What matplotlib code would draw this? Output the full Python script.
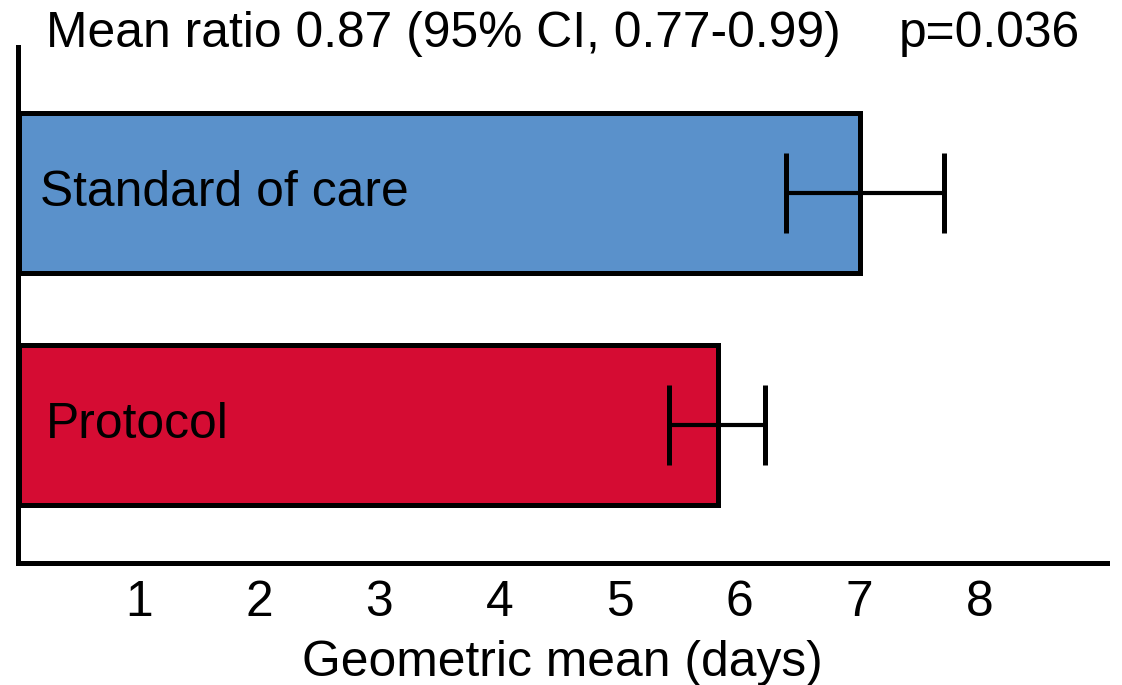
import matplotlib
matplotlib.use("Agg")
import matplotlib.pyplot as plt

# Geometric mean length of stay (days) with 95% CI
groups = ["Protocol", "Standard of care"]
means = [5.82, 7.0]
ci_low = [5.41, 6.39]
ci_high = [6.21, 7.70]
bar_colors = ["#D50C33", "#5A91CB"]
xticks = [1, 2, 3, 4, 5, 6, 7, 8]
title_text = "Mean ratio 0.87 (95% CI, 0.77-0.99)"
p_text = "p=0.036"
xlabel_text = "Geometric mean (days)"

plt.rcParams["font.family"] = ["Liberation Sans", "DejaVu Sans"]
FS = 35.8

fig = plt.figure(figsize=(11.22, 6.85), dpi=100)
ax = fig.add_axes([17.5 / 1122, (685 - 563) / 685, (1107 - 17.5) / 1122, (563 - 47) / 685])

ypos = list(range(len(groups)))
xerr = [[m - lo for m, lo in zip(means, ci_low)], [hi - m for m, hi in zip(means, ci_high)]]

ax.barh(ypos, means, height=0.69, color=bar_colors, edgecolor="black", linewidth=3.6, zorder=2)
ax.errorbar(means, ypos, xerr=xerr, fmt="none", ecolor="black", elinewidth=3.0,
            capsize=29, capthick=3.6, zorder=3)

label_x = [0.225, 0.175]
for y, name, lx in zip(ypos, groups, label_x):
    ax.text(lx, y - 0.055, name, fontsize=FS, va="baseline", ha="left", zorder=4)

ax.set_xlim(-0.012, 9.06)
ax.set_ylim(-0.595, 1.629)
ax.set_xticks(xticks)
ax.set_xticklabels([str(t) for t in xticks])
ax.set_yticks([])
ax.tick_params(axis="x", length=0, pad=12, labelsize=FS)
ax.set_xlabel(xlabel_text, fontsize=FS, labelpad=10)

for side in ("top", "right"):
    ax.spines[side].set_visible(False)
for side in ("left", "bottom"):
    ax.spines[side].set_linewidth(3.6)
    ax.spines[side].set_capstyle("projecting")

fig.text(46 / 1122, 1 - 47 / 685, title_text, fontsize=FS, va="baseline", ha="left")
fig.text(1080 / 1122, 1 - 47 / 685, p_text, fontsize=FS, va="baseline", ha="right")

fig.savefig("out.png", dpi=100)
